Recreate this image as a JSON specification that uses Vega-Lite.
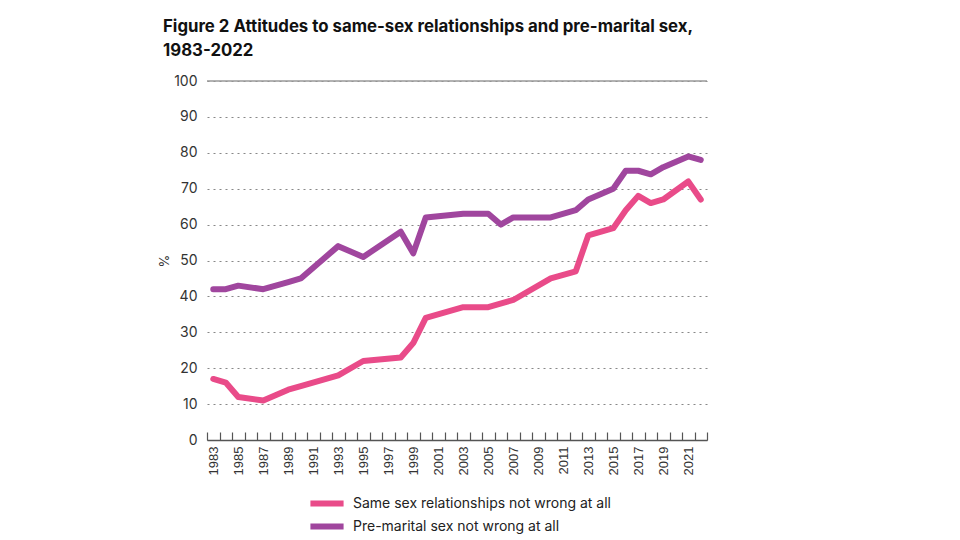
{
  "$schema": "https://vega.github.io/schema/vega-lite/v6.json",
  "autosize": {"type": "none"},
  "width": 500,
  "height": 359,
  "padding": {"left": 207, "top": 81, "right": 253, "bottom": 100},
  "background": "white",
  "title": {
    "text": ["Figure 2 Attitudes to same-sex relationships and pre-marital sex,", "1983-2022"],
    "anchor": "start",
    "frame": "group",
    "dx": -44,
    "font": "Inter",
    "fontSize": 16.8,
    "fontWeight": "bold",
    "lineHeight": 24,
    "offset": 14,
    "color": "#111111"
  },
  "config": {
    "view": {"stroke": null},
    "axis": {"labelColor": "#333333", "titleColor": "#333333"},
    "axisY": {
      "domain": false,
      "ticks": false,
      "grid": true,
      "gridDash": [2, 4],
      "gridColor": "#888888",
      "gridWidth": 1.2,
      "labelOverlap": false,
      "labelFont": "Inter",
      "labelFontSize": 14,
      "labelPadding": 10,
      "titleFont": "Inter",
      "titleFontSize": 13,
      "titleFontWeight": "normal",
      "titlePadding": 2
    }
  },
  "layer": [
    {
      "data": {"values": [{"level": 100}]},
      "mark": {"type": "rule", "color": "#999999", "strokeWidth": 1.5},
      "encoding": {
        "y": {
          "field": "level",
          "type": "quantitative",
          "title": "%",
          "scale": {"domain": [0, 100], "nice": false},
          "axis": {"values": [0, 10, 20, 30, 40, 50, 60, 70, 80, 90, 100]}
        }
      }
    },
    {
      "data": {
        "values": [
          {"year": 1983, "series": "Same sex relationships not wrong at all", "value": 17},
          {"year": 1984, "series": "Same sex relationships not wrong at all", "value": 16},
          {"year": 1985, "series": "Same sex relationships not wrong at all", "value": 12},
          {"year": 1987, "series": "Same sex relationships not wrong at all", "value": 11},
          {"year": 1989, "series": "Same sex relationships not wrong at all", "value": 14},
          {"year": 1990, "series": "Same sex relationships not wrong at all", "value": 15},
          {"year": 1993, "series": "Same sex relationships not wrong at all", "value": 18},
          {"year": 1995, "series": "Same sex relationships not wrong at all", "value": 22},
          {"year": 1998, "series": "Same sex relationships not wrong at all", "value": 23},
          {"year": 1999, "series": "Same sex relationships not wrong at all", "value": 27},
          {"year": 2000, "series": "Same sex relationships not wrong at all", "value": 34},
          {"year": 2003, "series": "Same sex relationships not wrong at all", "value": 37},
          {"year": 2005, "series": "Same sex relationships not wrong at all", "value": 37},
          {"year": 2007, "series": "Same sex relationships not wrong at all", "value": 39},
          {"year": 2010, "series": "Same sex relationships not wrong at all", "value": 45},
          {"year": 2012, "series": "Same sex relationships not wrong at all", "value": 47},
          {"year": 2013, "series": "Same sex relationships not wrong at all", "value": 57},
          {"year": 2015, "series": "Same sex relationships not wrong at all", "value": 59},
          {"year": 2016, "series": "Same sex relationships not wrong at all", "value": 64},
          {"year": 2017, "series": "Same sex relationships not wrong at all", "value": 68},
          {"year": 2018, "series": "Same sex relationships not wrong at all", "value": 66},
          {"year": 2019, "series": "Same sex relationships not wrong at all", "value": 67},
          {"year": 2021, "series": "Same sex relationships not wrong at all", "value": 72},
          {"year": 2022, "series": "Same sex relationships not wrong at all", "value": 67},
          {"year": 1983, "series": "Pre-marital sex not wrong at all", "value": 42},
          {"year": 1984, "series": "Pre-marital sex not wrong at all", "value": 42},
          {"year": 1985, "series": "Pre-marital sex not wrong at all", "value": 43},
          {"year": 1987, "series": "Pre-marital sex not wrong at all", "value": 42},
          {"year": 1989, "series": "Pre-marital sex not wrong at all", "value": 44},
          {"year": 1990, "series": "Pre-marital sex not wrong at all", "value": 45},
          {"year": 1993, "series": "Pre-marital sex not wrong at all", "value": 54},
          {"year": 1995, "series": "Pre-marital sex not wrong at all", "value": 51},
          {"year": 1998, "series": "Pre-marital sex not wrong at all", "value": 58},
          {"year": 1999, "series": "Pre-marital sex not wrong at all", "value": 52},
          {"year": 2000, "series": "Pre-marital sex not wrong at all", "value": 62},
          {"year": 2003, "series": "Pre-marital sex not wrong at all", "value": 63},
          {"year": 2005, "series": "Pre-marital sex not wrong at all", "value": 63},
          {"year": 2006, "series": "Pre-marital sex not wrong at all", "value": 60},
          {"year": 2007, "series": "Pre-marital sex not wrong at all", "value": 62},
          {"year": 2010, "series": "Pre-marital sex not wrong at all", "value": 62},
          {"year": 2012, "series": "Pre-marital sex not wrong at all", "value": 64},
          {"year": 2013, "series": "Pre-marital sex not wrong at all", "value": 67},
          {"year": 2015, "series": "Pre-marital sex not wrong at all", "value": 70},
          {"year": 2016, "series": "Pre-marital sex not wrong at all", "value": 75},
          {"year": 2017, "series": "Pre-marital sex not wrong at all", "value": 75},
          {"year": 2018, "series": "Pre-marital sex not wrong at all", "value": 74},
          {"year": 2019, "series": "Pre-marital sex not wrong at all", "value": 76},
          {"year": 2021, "series": "Pre-marital sex not wrong at all", "value": 79},
          {"year": 2022, "series": "Pre-marital sex not wrong at all", "value": 78}
        ]
      },
      "mark": {"type": "line", "strokeWidth": 6, "strokeJoin": "round", "strokeCap": "round"},
      "encoding": {
        "x": {
          "field": "year",
          "type": "ordinal",
          "title": null,
          "scale": {
            "type": "band",
            "paddingInner": 0,
            "paddingOuter": 0,
            "domain": [1983, 1984, 1985, 1986, 1987, 1988, 1989, 1990, 1991, 1992, 1993, 1994, 1995, 1996, 1997, 1998, 1999, 2000, 2001, 2002, 2003, 2004, 2005, 2006, 2007, 2008, 2009, 2010, 2011, 2012, 2013, 2014, 2015, 2016, 2017, 2018, 2019, 2020, 2021, 2022]
          },
          "axis": {
            "tickBand": "extent",
            "tickSize": -8,
            "tickColor": "#555555",
            "tickWidth": 1.2,
            "domainColor": "#555555",
            "domainWidth": 1.5,
            "labelAngle": 270,
            "labelFont": "Liberation Sans",
            "labelFontSize": 13,
            "labelPadding": 14,
            "labelExpr": "toNumber(datum.value) % 2 == 1 ? datum.label : ''",
            "grid": false
          }
        },
        "y": {
          "field": "value",
          "type": "quantitative",
          "title": "%",
          "scale": {"domain": [0, 100], "nice": false},
          "axis": {"values": [0, 10, 20, 30, 40, 50, 60, 70, 80, 90, 100]}
        },
        "color": {
          "field": "series",
          "type": "nominal",
          "scale": {
            "domain": ["Same sex relationships not wrong at all", "Pre-marital sex not wrong at all"],
            "range": ["#E94B89", "#A0469E"]
          },
          "legend": {
            "title": null,
            "orient": "none",
            "direction": "vertical",
            "legendX": 100,
            "legendY": 415,
            "symbolType": "stroke",
            "symbolSize": 1100,
            "symbolStrokeWidth": 6,
            "clipHeight": 15,
            "labelFont": "Inter",
            "labelFontSize": 14,
            "labelLimit": 400,
            "labelColor": "#222222",
            "labelOffset": 6,
            "rowPadding": 8
          }
        }
      }
    }
  ]
}
